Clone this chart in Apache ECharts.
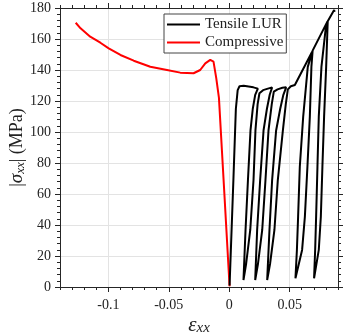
<!DOCTYPE html>
<html>
<head>
<meta charset="utf-8">
<script src="https://cdn.jsdelivr.net/npm/echarts@6/dist/echarts.min.js"></script>
<style>html,body{margin:0;padding:0;background:#fff}#c{width:360px;height:334px}</style>
</head>
<body>
<div id="c"></div>
<script>
// Axis ranges and tick labels
const xMin = -0.14, xMax = 0.09;
const xMajorTicks = [-0.1, -0.05, 0, 0.05];
const yMin = 0, yMax = 180, yStep = 20;

// Compressive curve (strain, |stress| MPa)
const compEps = [-0.127, -0.123, -0.115, -0.1066, -0.0997, -0.090, -0.079, -0.0653, -0.0515, -0.0405, -0.0295, -0.024, -0.0198, -0.0157, -0.013, -0.0107, -0.0085, -0.004, 0.0003];
const compSig = [170.5, 166.9, 161.5, 157.6, 154.0, 149.7, 146.0, 142.1, 140.0, 138.3, 137.9, 140.0, 144.3, 146.5, 145.4, 134.6, 122.0, 60.0, 0.5];

// Tensile loading-unloading-reloading curve
const tensEps = [
  0.0003, 0.0035, 0.0055, 0.007, 0.0085,
  0.012, 0.016, 0.020, 0.0237,
  0.0215, 0.0195, 0.0176, 0.0155, 0.0135, 0.0118,
  0.014, 0.0174, 0.0201, 0.0217, 0.0235, 0.025,
  0.028, 0.032, 0.0355,
  0.0335, 0.0312, 0.0284, 0.0256, 0.0231, 0.0215,
  0.0238, 0.0273, 0.030, 0.0325, 0.0352, 0.0369,
  0.040, 0.044, 0.0471,
  0.0448, 0.0422, 0.0388, 0.0355, 0.0333, 0.0314,
  0.0338, 0.0374, 0.0402, 0.0444, 0.0468, 0.0485,
  0.051, 0.0543, 0.0686,
  0.0675, 0.065, 0.0612, 0.0584, 0.0570, 0.0560, 0.0548,
  0.0603, 0.0626, 0.0647, 0.0667, 0.068, 0.069,
  0.0812,
  0.080, 0.0763, 0.0741, 0.0730, 0.0719, 0.0711, 0.0702,
  0.0741, 0.0758, 0.0771, 0.0785, 0.0802, 0.0815,
  0.0868, 0.0872
];
const tensSig = [
  1, 70, 115, 127, 129.5,
  129.8, 129.3, 128.8, 128,
  124, 115, 101, 69, 36.8, 4.5,
  15, 36.8, 69, 101, 118, 125,
  127, 128, 128.8,
  124, 115, 101, 69, 36.8, 4.5,
  15, 36.8, 69, 101, 118, 126,
  127.5, 128.5, 128.8,
  124, 115, 101, 69, 36.8, 4.5,
  15, 36.8, 69, 101, 118, 127.5,
  129.5, 130.3, 151.8,
  148.6, 142, 109.9, 77.6, 45.4, 23.9, 5.6,
  23.9, 45.4, 77.6, 109.9, 142, 152.5,
  171.2,
  168, 142, 109.9, 77.6, 45.4, 23.9, 5.6,
  23.9, 45.4, 77.6, 109.9, 142, 171.5,
  178.7, 177.5
];

const FONT = 'Liberation Serif';
const AX = '#262626';
const GRID = '#e3e3e3';

const zip = (a, b) => a.map((v, i) => [v, b[i]]);

function xAxisDef(pos, major, labels) {
  const base = {
    type: 'value', position: pos, min: xMin, max: xMax,
    axisLine: { show: true, onZero: false, lineStyle: { color: AX, width: 1 } },
    axisTick: { show: true, inside: false, length: major ? 5 : 3, lineStyle: { color: AX, width: 1 } },
    axisLabel: { show: false },
    splitLine: { show: false }
  };
  if (major) {
    base.axisTick.customValues = xMajorTicks;
    base.axisLabel = labels ? { show: true, customValues: xMajorTicks, margin: 11, color: '#222', fontFamily: FONT, fontSize: 14 } : { show: false };
    base.splitLine = labels ? { show: true, lineStyle: { color: GRID, width: 1 } } : { show: false };
  } else {
    base.interval = 0.01;
  }
  return base;
}

function yAxisDef(pos, labels) {
  const a = {
    type: 'value', position: pos, min: yMin, max: yMax, interval: yStep,
    axisLine: { show: true, onZero: false, lineStyle: { color: AX, width: 1 } },
    axisTick: { show: true, inside: false, length: 5, lineStyle: { color: AX } },
    minorTick: { show: true, splitNumber: 5, length: 3, lineStyle: { color: AX } },
    axisLabel: labels ? { margin: 9, color: '#222', fontFamily: FONT, fontSize: 14 } : { show: false },
    splitLine: labels ? { show: true, lineStyle: { color: GRID, width: 1 } } : { show: false }
  };
  if (labels) {
    a.name = '|{i|σ}{s|xx}| (MPa)';
    a.nameLocation = 'middle';
    a.nameRotate = 90;
    a.nameGap = 33;
    a.nameMoveOverlap = false;
    a.nameTextStyle = {
      fontFamily: FONT, fontSize: 18, color: '#222',
      rich: {
        i: { fontFamily: FONT, fontStyle: 'italic', fontSize: 19, color: '#222' },
        s: { fontFamily: FONT, fontStyle: 'italic', fontSize: 13, color: '#222', padding: [7, 0, 0, 0] }
      }
    };
  }
  return a;
}

const chart = echarts.init(document.getElementById('c'), null, { renderer: 'canvas' });
const xa0 = xAxisDef('bottom', false, false);
xa0.name = '{e|ε}{s|xx}';
xa0.nameLocation = 'middle';
xa0.nameGap = 27;
xa0.nameMoveOverlap = false;
xa0.nameTextStyle = {
  rich: {
    e: { fontFamily: FONT, fontStyle: 'italic', fontSize: 21, color: '#222' },
    s: { fontFamily: FONT, fontStyle: 'italic', fontSize: 15, color: '#222', padding: [7, 0, 0, 0] }
  }
};

chart.setOption({
  animation: false,
  backgroundColor: '#fff',
  grid: { left: 60, right: 22, top: 8, bottom: 47, containLabel: false, outerBoundsMode: 'none' },
  legend: {
    data: ['Tensile LUR', 'Compressive'],
    orient: 'vertical', left: 164, top: 14,
    icon: 'rect',
    itemWidth: 33, itemHeight: 2, itemGap: 3,
    padding: [3, 3, 3, 3],
    backgroundColor: '#fff', borderColor: '#444', borderWidth: 1,
    textStyle: { fontFamily: FONT, fontSize: 15, color: '#222', padding: [0, 0, 0, 0] }
  },
  xAxis: [
    xa0,
    xAxisDef('bottom', true, true),
    xAxisDef('top', false, false),
    xAxisDef('top', true, false)
  ],
  yAxis: [
    yAxisDef('left', true),
    yAxisDef('right', false)
  ],
  series: [
    {
      name: 'Compressive', type: 'line', xAxisIndex: 0, yAxisIndex: 0,
      data: zip(compEps, compSig), symbol: 'none', showSymbol: false, smooth: false,
      lineStyle: { color: '#ff0000', width: 2 }, itemStyle: { color: '#ff0000' }
    },
    {
      name: 'Tensile LUR', type: 'line', xAxisIndex: 0, yAxisIndex: 0,
      data: zip(tensEps, tensSig), symbol: 'none', showSymbol: false, smooth: false,
      lineStyle: { color: '#000', width: 2 }, itemStyle: { color: '#000' }
    }
  ]
});
</script>
</body>
</html>
